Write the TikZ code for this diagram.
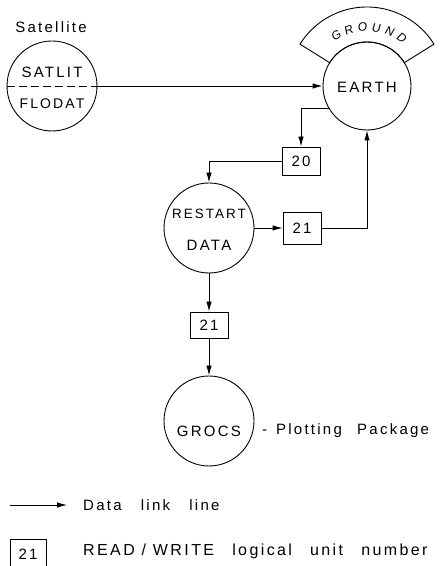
\documentclass[tikz,border=0pt]{standalone}
\usepackage{fontspec}
\setmainfont{Liberation Sans}[LetterSpace=15]
\usetikzlibrary{arrows.meta}
\begin{document}
\begin{tikzpicture}[x=1pt,y=1pt,
  proc/.style={circle,draw,minimum size=90pt,inner sep=0pt,line width=0.9pt},
  unit/.style={rectangle,draw,minimum width=38pt,minimum height=28pt,inner sep=0pt,line width=0.9pt,font=\fontsize{15}{17}\selectfont},
  lbl/.style={inner sep=0pt,font=\fontsize{15}{17}\selectfont},
  arcletter/.style={inner sep=0pt,font=\fontsize{12}{14}\selectfont\addfontfeature{LetterSpace=0,FakeSlant=0.12}},
  link/.style={-{Latex[length=10pt,width=5.5pt]},line width=0.9pt}]
\useasboundingbox (0,0) rectangle (440,566);
% satellite
\node[lbl] (sattitle) at (51,539) {Satellite};
\node[proc] (sat) at (52,480) {};
\node[lbl] (satlit) at (52,494) {SATLIT};
\node[lbl,font=\fontsize{14}{16}\selectfont] (flodat) at (52,462) {FLODAT};
\draw[dashed,dash pattern=on 8pt off 4pt,line width=0.9pt] (sat.west) -- (sat.east);
% earth
\node[proc,minimum size=88pt] (earth) at (367,480) {};
\node[lbl] (earthtext) at (367,479) {EARTH};
\draw[line width=0.9pt] ([shift={(32:79)}]earth.center) arc[start angle=32,end angle=148,radius=79]
  -- ([shift={(148:44)}]earth.center) arc[start angle=148,end angle=32,radius=44] -- cycle;
\foreach \ch [count=\i] in {G,R,O,U,N,D}{
  \pgfmathsetmacro{\ang}{121.75-13.5*(\i-1)}
  \node[arcletter,rotate=\ang-90] (gr\i) at ([shift={(\ang:59)}]earth.center) {\ch};
}
% units
\node[unit] (u20) at (301,405) {20};
\node[proc] (restart) at (209,338) {};
\node[lbl,font=\fontsize{13.5}{16}\selectfont] (restarttext) at (209,352) {RESTART};
\node[lbl] (datatext) at (209,321) {DATA};
\node[unit,minimum height=32pt] (u21a) at (302,338) {21};
\node[unit,minimum height=26pt] (u21b) at (209,241) {21};
\node[proc] (grocs) at (209,145) {};
\node[lbl] (grocstext) at (209,135) {GROCS};
\node[lbl,anchor=west] (plot) at (262,135) {-\ \,Plotting\ \ \,Package};
% connectors
\draw[link] (sat.east) -- (earth.west);
\draw[link] (earth.210) -| (u20.north);
\draw[link] (u20.west) -| (restart.north);
\draw[link] (restart.east) -- (u21a.west);
\draw[link] (u21a.east) -| (earth.south);
\draw[link] (restart.south) -- (u21b.north);
\draw[link] (u21b.south) -- (grocs.north);
% legend
\coordinate (la) at (10,61);
\coordinate (lb) at (67,61);
\draw[link] (la) -- (lb);
\node[lbl,anchor=west] (legdata) at (83,61) {Data\ \ \ link\ \ \ line};
\node[unit,minimum width=36pt,minimum height=30pt] (legunit) at (28,12) {21};
\node[lbl,anchor=west,font=\fontsize{16}{18}\selectfont] (legrw) at (83,15) {READ\ /\ WRITE\ \ \;logical\ \ \;unit\ \ \;number};
\end{tikzpicture}
\end{document}
